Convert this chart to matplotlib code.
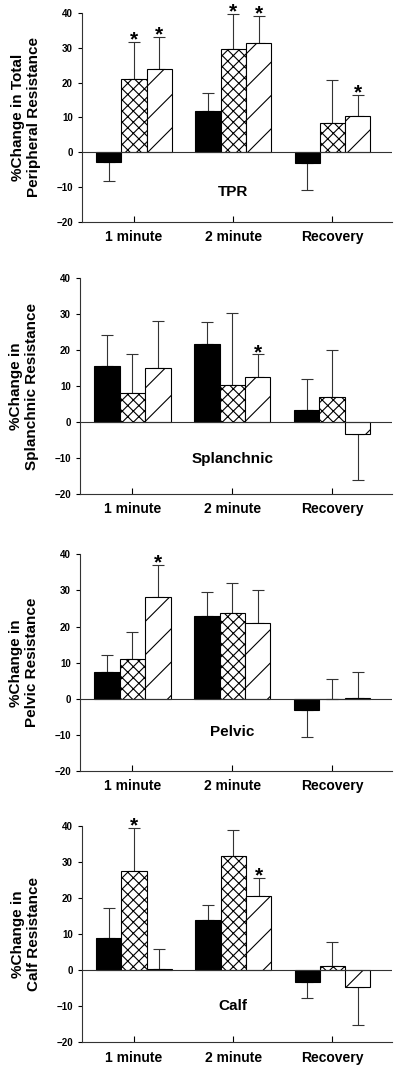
import numpy as np
import matplotlib
matplotlib.use("Agg")
import matplotlib.pyplot as plt

plt.rcParams['font.family'] = ['Liberation Sans', 'DejaVu Sans']
plt.rcParams['font.weight'] = 'bold'
plt.rcParams['hatch.linewidth'] = 0.8
plt.rcParams['hatch.color'] = '#222222'

# time points on the x axis
periods = ["1 minute", "2 minute", "Recovery"]

# TPR panel: mean % change and error (black, cross-hatched, diagonal)
tpr_black = [-2.8, 11.9, -3.0]
tpr_black_err = [5.5, 5.1, 7.9]
tpr_cross = [21.0, 29.6, 8.4]
tpr_cross_err = [10.7, 10.2, 12.2]
tpr_diag = [23.9, 31.3, 10.3]
tpr_diag_err = [9.2, 7.9, 6.1]
tpr_stars = [(0, 1), (0, 2), (1, 1), (1, 2), (2, 2)]

# Splanchnic panel
spl_black = [15.6, 21.7, 3.3]
spl_black_err = [8.5, 6.1, 8.7]
spl_cross = [8.1, 10.2, 7.1]
spl_cross_err = [10.8, 20.0, 12.9]
spl_diag = [15.0, 12.5, -3.2]
spl_diag_err = [13.0, 6.4, 12.8]
spl_stars = [(1, 2)]

# Pelvic panel
pel_black = [7.4, 22.9, -3.0]
pel_black_err = [4.7, 6.6, 7.6]
pel_cross = [11.0, 23.7, 0.0]
pel_cross_err = [7.6, 8.3, 5.4]
pel_diag = [28.1, 21.0, 0.3]
pel_diag_err = [9.0, 9.0, 7.1]
pel_stars = [(0, 2)]

# Calf panel
calf_black = [8.8, 14.0, -3.2]
calf_black_err = [8.4, 4.1, 4.4]
calf_cross = [27.4, 31.6, 1.2]
calf_cross_err = [12.0, 7.3, 6.6]
calf_diag = [0.2, 20.4, -4.8]
calf_diag_err = [5.7, 5.2, 10.4]
calf_stars = [(0, 1), (1, 2)]

panels = [
    ("%Change in Total\nPeripheral Resistance", "TPR", -11.5,
     [tpr_black, tpr_cross, tpr_diag], [tpr_black_err, tpr_cross_err, tpr_diag_err], tpr_stars,
     [0.205, 0.792, 0.775, 0.196]),
    ("%Change in\nSplanchnic Resistance", "Splanchnic", -10.2,
     [spl_black, spl_cross, spl_diag], [spl_black_err, spl_cross_err, spl_diag_err], spl_stars,
     [0.200, 0.5375, 0.780, 0.202]),
    ("%Change in\nPelvic Resistance", "Pelvic", -9.2,
     [pel_black, pel_cross, pel_diag], [pel_black_err, pel_cross_err, pel_diag_err], pel_stars,
     [0.200, 0.278, 0.780, 0.203]),
    ("%Change in\nCalf Resistance", "Calf", -10.0,
     [calf_black, calf_cross, calf_diag], [calf_black_err, calf_cross_err, calf_diag_err], calf_stars,
     [0.205, 0.024, 0.775, 0.203]),
]

styles = [dict(color='black', hatch=None),
          dict(color='white', hatch='xxx'),
          dict(color='white', hatch='/')]

fig = plt.figure(figsize=(4, 10.68), dpi=100)
x = np.arange(len(periods))
w = 0.255

for ylab, name, name_y, series, errs, stars, pos in panels:
    ax = fig.add_axes(pos)
    for i, (vals, err, st) in enumerate(zip(series, errs, styles)):
        xs = x + (i - 1) * w
        ax.bar(xs, vals, w, color=st['color'], hatch=st['hatch'],
               edgecolor='black', linewidth=0.8, zorder=2)
        vals = np.array(vals)
        err = np.array(err)
        up = np.where(vals >= 0, err, 0)
        lo = np.where(vals < 0, err, 0)
        ax.errorbar(xs, vals, yerr=[lo, up], fmt='none', ecolor='#333333',
                    elinewidth=0.8, capsize=4.5, capthick=0.8, zorder=1)
    for g, s in stars:
        v = series[s][g]
        e = errs[s][g]
        ax.text(x[g] + (s - 1) * w, v + e - 2.2, '*', ha='center', va='bottom',
                fontsize=15, fontweight='bold')
    ax.axhline(0, color='#333333', linewidth=0.8, zorder=3)
    ax.text(1, name_y, name, ha='center', va='center', fontsize=11, fontweight='bold')
    ax.set_xlim(-0.525, 2.6)
    ax.set_ylim(-20, 40)
    ax.set_yticks([-20, -10, 0, 10, 20, 30, 40])
    ax.set_xticks(x)
    ax.set_xticklabels(periods, fontsize=10, fontweight='bold')
    ax.tick_params(axis='y', labelsize=7, length=3, width=0.8, direction='out')
    ax.tick_params(axis='x', length=4, width=0.8, direction='in', pad=6)
    ax.spines['top'].set_visible(False)
    ax.spines['right'].set_visible(False)
    ax.spines['left'].set_color('#333333')
    ax.spines['bottom'].set_color('#333333')
    ax.set_ylabel(ylab, fontsize=11, fontweight='bold', linespacing=1.2, labelpad=11)

fig.savefig("out.png", dpi=100)
